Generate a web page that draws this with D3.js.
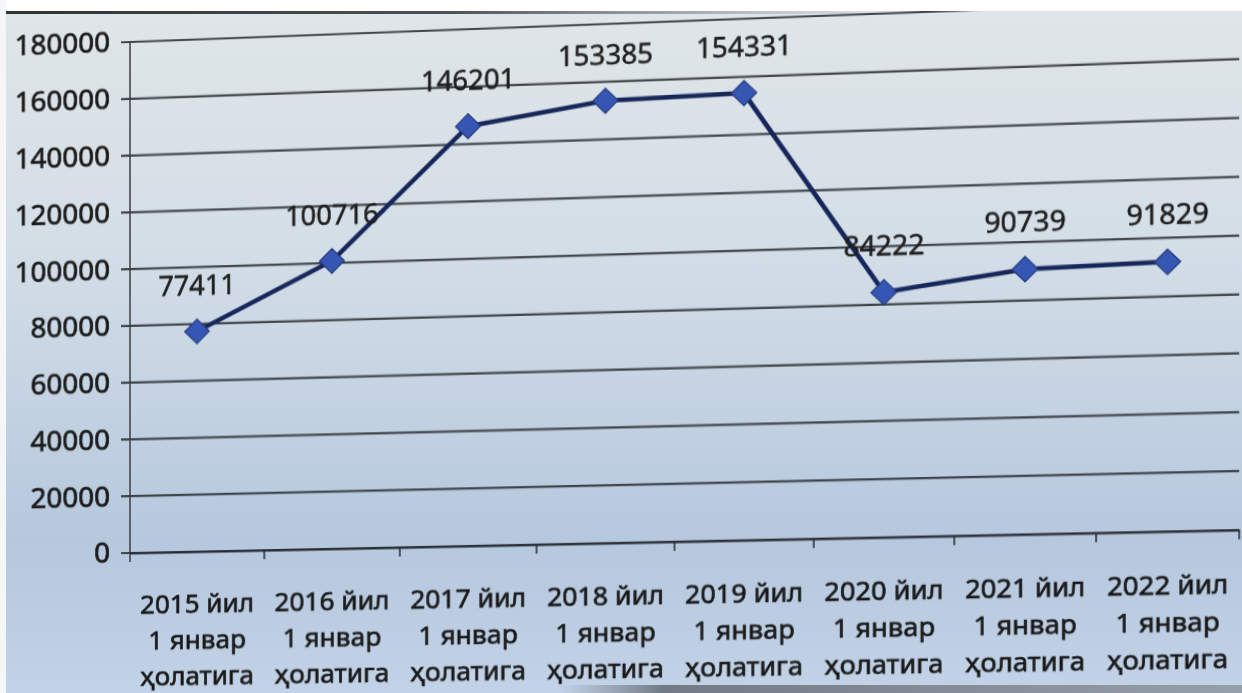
<!DOCTYPE html>
<html>
<head>
<meta charset="utf-8">
<script src="https://cdn.jsdelivr.net/npm/d3@7"></script>
<style>
  body { margin: 0; background: #ffffff; }
  #wrap { position: relative; width: 1242px; height: 693px; overflow: hidden; }
  #wrap svg { position: absolute; left: 0; top: 0; display: block; }
  /* the photo was taken at a slight angle: right side closer and higher */
  #chart { transform-origin: 130px 553px; transform: perspective(2000px) rotateY(-3.82deg); }
  text { font-family: "Noto Sans", "Open Sans", sans-serif; }
</style>
</head>
<body>
<div id="wrap">
  <svg id="paper" width="1242" height="693"></svg>
  <svg id="chart" width="1242" height="693"></svg>
  <svg id="frame" width="1242" height="693"></svg>
</div>
<script>
// chart data
const years = ["2015", "2016", "2017", "2018", "2019", "2020", "2021", "2022"];
const values = [77411, 100716, 146201, 153385, 154331, 84222, 90739, 91829];
const yTicks = [0, 20000, 40000, 60000, 80000, 100000, 120000, 140000, 160000, 180000];
const labelLine2 = "1 январ";
const labelLine3 = "ҳолатига";

const size = { width: 1242, height: 693, left: 130, right: 1202, top: 42, bottom: 553 };
const tilt = 0.0207;

// paper background
const paper = d3.select("#paper");
const pdefs = paper.append("defs");
const grad = pdefs.append("linearGradient")
    .attr("id", "paperFill").attr("x1", 0).attr("y1", 0).attr("x2", 0).attr("y2", 1);
grad.append("stop").attr("offset", "0%").attr("stop-color", "#e0e6e8");
grad.append("stop").attr("offset", "35%").attr("stop-color", "#d4dee7");
grad.append("stop").attr("offset", "78%").attr("stop-color", "#b6c8de");
grad.append("stop").attr("offset", "100%").attr("stop-color", "#c2d2e7");
paper.append("rect")
    .attr("x", 6).attr("y", 0)
    .attr("width", size.width - 6).attr("height", size.height)
    .attr("fill", "url(#paperFill)");

// chart
const svg = d3.select("#chart");
svg.append("defs").append("filter").attr("id", "soft")
    .append("feGaussianBlur").attr("stdDeviation", 0.55);

const g = svg.append("g")
    .attr("filter", "url(#soft)")
    .attr("transform", `matrix(1,${-tilt},0,1,0,${size.left * tilt})`);

const x = d3.scaleBand()
    .domain(years)
    .range([size.left, size.right]);

const y = d3.scaleLinear()
    .domain([0, 180000])
    .range([size.bottom, size.top]);

// horizontal gridlines
g.selectAll("line.grid")
    .data(yTicks)
    .enter().append("line")
    .attr("class", "grid")
    .attr("x1", size.left - 9)
    .attr("x2", size.right)
    .attr("y1", d => y(d))
    .attr("y2", d => y(d))
    .attr("stroke", "#262a30")
    .attr("stroke-width", 2.2)
    .attr("opacity", 0.85);

// y axis labels
const yAxis = d3.axisLeft(y)
    .tickValues(yTicks)
    .tickSize(0)
    .tickPadding(20)
    .tickFormat(d3.format("d"));

g.append("g")
    .attr("transform", `translate(${size.left},0)`)
    .call(yAxis)
    .call(a => a.select(".domain").remove())
    .call(a => a.selectAll("text")
        .attr("fill", "#1a1a1a")
        .attr("stroke", "#1a1a1a")
        .attr("stroke-width", 0.7)
        .attr("font-size", 28)
        .attr("font-family", "'Noto Sans', sans-serif"));

// vertical axis line, running a little past zero
g.append("line")
    .attr("x1", size.left).attr("x2", size.left)
    .attr("y1", y(180000)).attr("y2", size.bottom + 9)
    .attr("stroke", "#3a3e44")
    .attr("stroke-width", 1.5);

// x axis with ticks between categories
const xAxis = d3.axisBottom(x).tickSize(0).tickFormat("");
g.append("g")
    .attr("transform", `translate(0,${size.bottom})`)
    .call(xAxis)
    .call(a => a.select(".domain").attr("stroke", "#262a30").attr("stroke-width", 2.2));

g.selectAll("line.xtick")
    .data(years)
    .enter().append("line")
    .attr("class", "xtick")
    .attr("x1", d => x(d) + x.bandwidth())
    .attr("x2", d => x(d) + x.bandwidth())
    .attr("y1", size.bottom)
    .attr("y2", size.bottom + 9)
    .attr("stroke", "#262a30")
    .attr("stroke-width", 1.5);

// category labels in three lines
const cat = g.selectAll("text.cat")
    .data(years)
    .enter().append("text")
    .attr("class", "cat")
    .attr("text-anchor", "middle")
    .attr("font-size", 26)
    .attr("fill", "#1a1a1a")
    .attr("stroke", "#1a1a1a")
    .attr("stroke-width", 0.65);

cat.append("tspan")
    .attr("x", d => x(d) + x.bandwidth() / 2)
    .attr("y", size.bottom + 61)
    .text(d => d + " йил");
cat.append("tspan")
    .attr("x", d => x(d) + x.bandwidth() / 2)
    .attr("y", size.bottom + 97)
    .text(labelLine2);
cat.append("tspan")
    .attr("x", d => x(d) + x.bandwidth() / 2)
    .attr("y", size.bottom + 133)
    .text(labelLine3);

// the series line
const line = d3.line()
    .x((d, i) => x(years[i]) + x.bandwidth() / 2)
    .y(d => y(d));

g.append("path")
    .datum(values)
    .attr("d", line)
    .attr("fill", "none")
    .attr("stroke", "#17285a")
    .attr("stroke-width", 4.5)
    .attr("stroke-linejoin", "round");

// diamond markers
g.selectAll("path.marker")
    .data(values)
    .enter().append("path")
    .attr("class", "marker")
    .attr("d", d3.symbol(d3.symbolSquare, 300))
    .attr("transform", (d, i) => `translate(${x(years[i]) + x.bandwidth() / 2},${y(d)}) rotate(45)`)
    .attr("fill", "#3557b2")
    .attr("stroke", "#24397e")
    .attr("stroke-width", 1.2);

// value labels
g.selectAll("text.value")
    .data(values)
    .enter().append("text")
    .attr("class", "value")
    .attr("x", (d, i) => x(years[i]) + x.bandwidth() / 2)
    .attr("y", d => y(d) - 36)
    .attr("text-anchor", "middle")
    .attr("font-size", 27)
    .attr("fill", "#1e1e1e")
    .attr("stroke", "#1e1e1e")
    .attr("stroke-width", 0.5)
    .text(d => d);

// photo edges on top
const frame = d3.select("#frame");
const fdefs = frame.append("defs");
const edge = fdefs.append("linearGradient").attr("id", "edge");
edge.append("stop").attr("offset", "0%").attr("stop-color", "#1e1e1e").attr("stop-opacity", 0.9);
edge.append("stop").attr("offset", "50%").attr("stop-color", "#2a2a2a").attr("stop-opacity", 0.8);
edge.append("stop").attr("offset", "100%").attr("stop-color", "#555").attr("stop-opacity", 0);
const bottomEdge = fdefs.append("linearGradient").attr("id", "bottomEdge");
bottomEdge.append("stop").attr("offset", "0%").attr("stop-color", "#6a727c").attr("stop-opacity", 0);
bottomEdge.append("stop").attr("offset", "15%").attr("stop-color", "#5d646d").attr("stop-opacity", 0.8);
bottomEdge.append("stop").attr("offset", "100%").attr("stop-color", "#8a929b").attr("stop-opacity", 0.8);

frame.append("rect")
    .attr("x", 0).attr("y", 0)
    .attr("width", size.width).attr("height", 11)
    .attr("fill", "#ffffff");
frame.append("rect")
    .attr("x", 0).attr("y", 0)
    .attr("width", 6).attr("height", size.height)
    .attr("fill", "#f4f6f8");
frame.append("rect")
    .attr("x", 6).attr("y", 11)
    .attr("width", 880).attr("height", 3)
    .attr("fill", "url(#edge)");
frame.append("rect")
    .attr("x", 560).attr("y", 685)
    .attr("width", 682).attr("height", 8)
    .attr("fill", "url(#bottomEdge)");
</script>
</body>
</html>
